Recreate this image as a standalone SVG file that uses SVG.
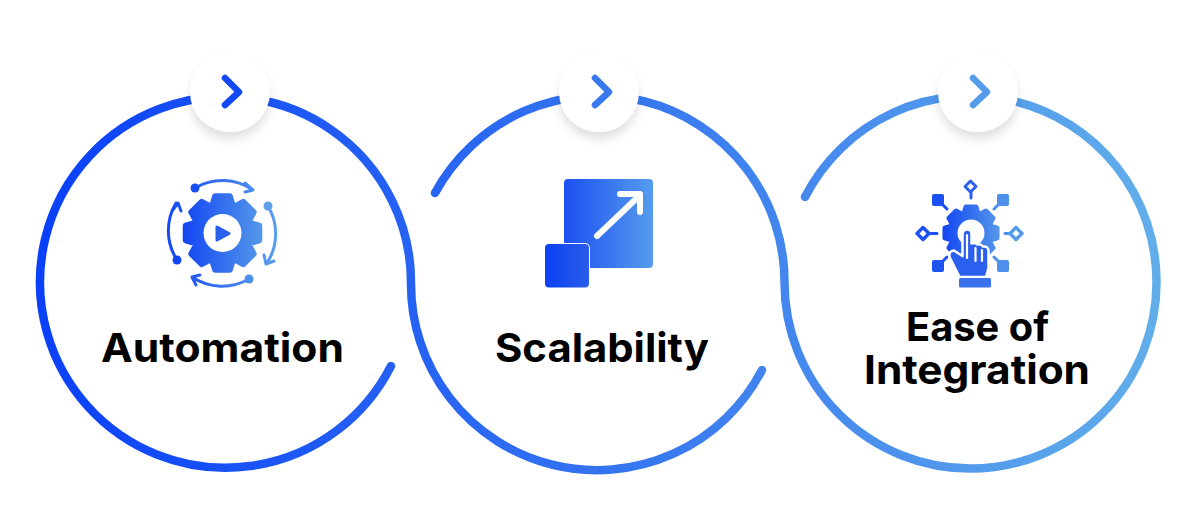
<svg xmlns="http://www.w3.org/2000/svg" width="1200" height="530" viewBox="0 0 1200 530">
<style>
.t{font-family:"Inter","Liberation Sans",sans-serif;font-weight:700;font-size:40px;fill:#000;text-anchor:start}
.btn{fill:#fff;filter:url(#sh)}
.chev{fill:none;stroke-width:6.500;stroke-linecap:round;stroke-linejoin:round}
</style>
<defs>
<linearGradient id="main" gradientUnits="userSpaceOnUse" x1="37" y1="0" x2="1160" y2="0"><stop offset="0" stop-color="#0a40f8"/><stop offset="0.5" stop-color="#3473f0"/><stop offset="1" stop-color="#62aeea"/></linearGradient>
<linearGradient id="ig" x1="0" y1="0" x2="1" y2="0"><stop offset="0" stop-color="#1549f3"/><stop offset="1" stop-color="#5295ea"/></linearGradient>
<linearGradient id="g1" gradientUnits="userSpaceOnUse" x1="168" y1="0" x2="276" y2="0"><stop offset="0" stop-color="#1549f3"/><stop offset="1" stop-color="#5a9eea"/></linearGradient>
<linearGradient id="g2" gradientUnits="userSpaceOnUse" x1="564" y1="0" x2="653" y2="0"><stop offset="0" stop-color="#1c50f2"/><stop offset="1" stop-color="#559cec"/></linearGradient>
<linearGradient id="g2b" gradientUnits="userSpaceOnUse" x1="545" y1="0" x2="589" y2="0"><stop offset="0" stop-color="#0b40f6"/><stop offset="1" stop-color="#2a5de8"/></linearGradient>
<filter id="sh" x="-30%" y="-30%" width="160%" height="170%"><feDropShadow dx="0" dy="7" stdDeviation="5" flood-color="#000" flood-opacity="0.12"/></filter>
<path id="gear" d="M30-11L40-8V8L30 11L29 13.4L33.9 22.6L22.6 33.9L13.4 29L11 30L8 40H-8L-11 30L-13.4 29L-22.6 33.9L-33.9 22.6L-29 13.4L-30 11L-40 8V-8L-30-11L-29-13.4L-33.9-22.6L-22.6-33.9L-13.4-29L-11-30L-8-40H8L11-30L13.4-29L22.6-33.9L33.9-22.6L29-13.4Z"/>
</defs>
<g id="connectors" fill="none" stroke="url(#main)" stroke-width="8.500" stroke-linecap="round">
<path d="M391 366A185.500 185.500 0 1 1 411 282.500A186 186 0 0 0 762 370"/>
<path d="M435 193A186 186 0 0 1 784.500 282.500A186 186 0 0 0 1156.500 282.500A186 186 0 0 0 805 197"/>
</g>
<g id="node-automation">
<circle class="btn" cx="230" cy="92" r="40"/>
<path class="chev" stroke="#1147f5" d="M225 78L239 92L225 105"/>
<g transform="translate(222.5 233) scale(.92)"><use href="#gear" fill="url(#ig)" stroke="url(#ig)" stroke-width="6.500" stroke-linejoin="round"/></g>
<circle cx="222.5" cy="233" r="19" fill="#fff"/>
<path d="M217 227V240L229 233.500Z" fill="#2b60ee" stroke="#2b60ee" stroke-width="3" stroke-linejoin="round"/>
<path fill="none" stroke="url(#g1)" stroke-width="3" stroke-linecap="round" stroke-linejoin="round" d="M195 188A54 54 0 0 1 253 190M245 183L253 190L245 192M268 206A54 54 0 0 1 267 263M264 255L266 264L274 261M249 279A54 54 0 0 1 192 277M200 275L192 277L196 285M177 260A54 54 0 0 1 176 203M172 211L178 203L181 211"/>
<circle cx="195" cy="188" r="4.500" fill="#1a4ef2"/><circle cx="268" cy="206" r="4.500" fill="#5c9fe9"/><circle cx="249" cy="279" r="4.500" fill="#4c8fea"/><circle cx="177" cy="260" r="4.500" fill="#1146f5"/>
<text class="t" x="101" y="362" textLength="243" lengthAdjust="spacingAndGlyphs">Automation</text>
</g>
<g id="node-scalability">
<circle class="btn" cx="599" cy="92" r="40"/>
<path class="chev" stroke="#3a78ef" d="M595 78L609 92L595 105"/>
<rect x="564" y="179" width="89" height="89" rx="4" fill="url(#g2)"/>
<rect x="545" y="244" width="44" height="43.500" rx="4" fill="url(#g2b)" stroke="#fff" stroke-width="2" paint-order="stroke"/>
<path fill="none" stroke="#fff" stroke-width="6" stroke-linecap="round" stroke-linejoin="round" d="M597 236L638 197M620 194H640V212"/>
<text class="t" x="495" y="362" textLength="214" lengthAdjust="spacingAndGlyphs">Scalability</text>
</g>
<g id="node-integration">
<circle class="btn" cx="978" cy="92" r="40"/>
<path class="chev" stroke="#549cea" d="M973 78L987 92L973 105"/>
<g transform="translate(971 233) scale(.66)"><use href="#gear" fill="url(#ig)" stroke="url(#ig)" stroke-width="6.500" stroke-linejoin="round"/></g>
<circle cx="971" cy="233" r="13.500" fill="#fff"/>
<rect x="932" y="194" width="12" height="12" rx="2" fill="#1c50f2"/>
<rect x="997" y="194" width="12" height="12" rx="2" fill="#4d8feb"/>
<rect x="932" y="260" width="12" height="12" rx="2" fill="#1f54f1"/>
<rect x="997" y="260" width="12" height="12" rx="2" fill="#4d8feb"/>
<g fill="none" stroke-width="3" stroke-linecap="round">
<path stroke="#2c60ee" d="M971 192V198"/><path stroke="#1c50f2" d="M931 233.500H937M942 204L947 209M942 262L947 257"/><path stroke="#4d8feb" d="M1005 233.500H1010M999 204L994 209M999 262L994 257"/>
<path stroke="#2c60ee" stroke-linejoin="round" d="M970.500 181L976 186.500L970.500 192L965 186.500Z"/>
<path stroke="#1c50f2" stroke-linejoin="round" d="M923 227.500L929 233.500L923 239.500L917 233.500Z" stroke-width="3.500"/>
<path stroke="#549cea" stroke-linejoin="round" d="M1016 227.500L1022 233.500L1016 239.500L1010 233.500Z" stroke-width="3.500"/>
</g>
<path id="hand" d="M959.500 277L949.500 257Q948.500 251 954 250.500L962.500 256V234Q963 229.500 967 229.500Q971.500 229.500 971.500 234V243.500Q975 242 977 244.500Q981 243.500 983 246.500Q988.500 246 988.500 251V268L986 277Z" fill="#2b60ee" stroke="#fff" stroke-width="2.500" stroke-linejoin="round"/>
<path d="M967 235V258M975.500 248V261M982 250V261" fill="none" stroke="#fff" stroke-width="2.200" stroke-linecap="round"/>
<rect x="959" y="278" width="32" height="9.500" rx="1.500" fill="#3a72ed"/>
<text class="t" x="906" y="341" textLength="143" lengthAdjust="spacingAndGlyphs">Ease of</text>
<text class="t" x="864" y="384" textLength="226" lengthAdjust="spacingAndGlyphs">Integration</text>
</g>
</svg>
